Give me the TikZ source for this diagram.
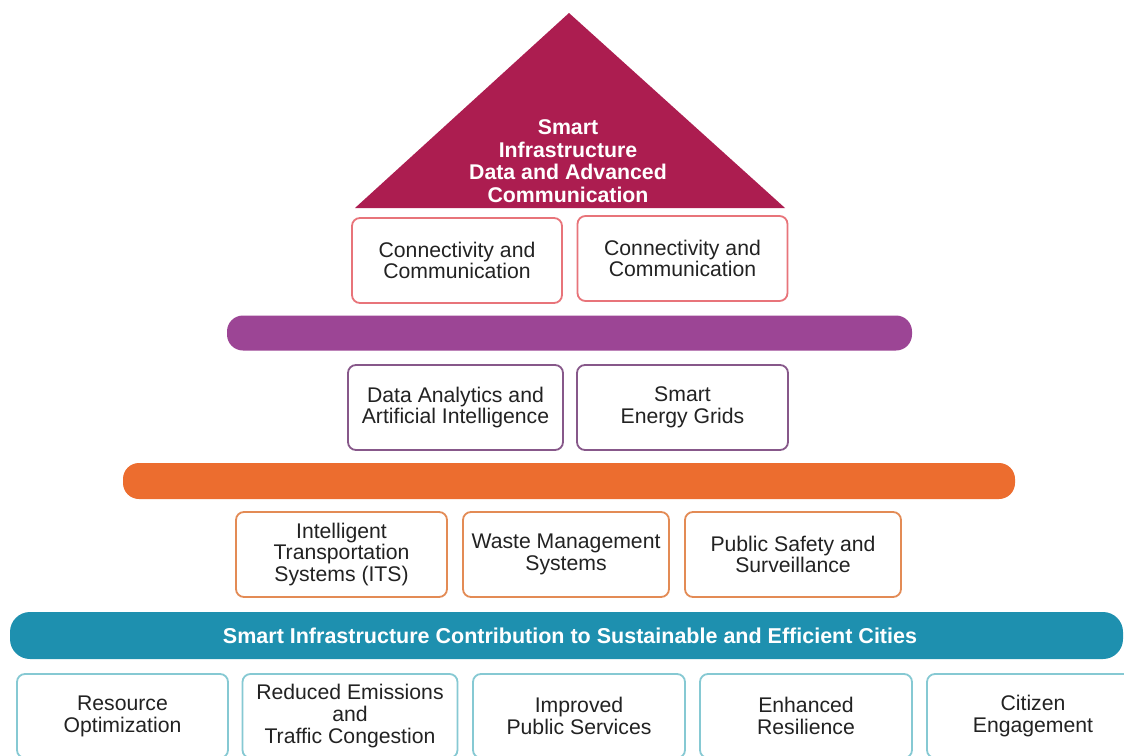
\documentclass[tikz,border=0pt]{standalone}
\usepackage{fontspec}
\setmainfont{Liberation Sans}
\definecolor{crim}{HTML}{AC1D50}
\definecolor{redb}{HTML}{E8747A}
\definecolor{purbar}{HTML}{9C4595}
\definecolor{purb}{HTML}{87588A}
\definecolor{orbar}{HTML}{EC6D2F}
\definecolor{orb}{HTML}{E38B55}
\definecolor{tealbar}{HTML}{1E90AF}
\definecolor{tealb}{HTML}{86C9D3}
\definecolor{txt}{HTML}{222222}
\tikzset{
  boxbase/.style={draw, line width=1.8pt, rounded corners=8pt, fill=white, align=center, text=txt,
    inner sep=0pt, font=\fontsize{21.2}{21.8}\selectfont},
  redbox/.style={boxbase, draw=redb, minimum width=210pt, minimum height=85pt},
  purbox/.style={boxbase, draw=purb, minimum width=214pt, minimum height=85pt},
  orbox/.style={boxbase, draw=orb, minimum height=85pt},
  tealbox/.style={boxbase, draw=tealb, minimum height=84pt},
  barbase/.style={draw=none, inner sep=0pt},
}
\begin{document}
\begin{tikzpicture}[x=1pt,y=-1pt]
\useasboundingbox (0,0) rectangle (1124,755);
\clip (0,0) rectangle (1124,755);
\fill[white] (0,0) rectangle (1124,755);
% roof
\coordinate (apex) at (569,13);
\coordinate (bl) at (355,208);
\coordinate (br) at (785,208);
\fill[crim] (bl) -- (apex) -- (br) -- cycle;
\node[text=white, align=center, font=\bfseries\fontsize{21.3}{22.6}\selectfont] (roof) at (568,161)
  {Smart\\Infrastructure\\Data and Advanced\\Communication};
% red boxes
\node[redbox] (r1) at (457,260.5) {Connectivity and\\Communication};
\node[redbox] (r2) at (682.5,258.5) {Connectivity and\\Communication};
% purple bar
\node[barbase, fill=purbar, minimum width=685pt, minimum height=35pt, rounded corners=16pt] (pbar) at (569.5,333) {};
% purple boxes
\node[purbox, minimum width=215pt] (p1) at (455.5,407.5) {Data Analytics and\\Artificial Intelligence};
\node[purbox, minimum width=211pt] (p2) at (682.5,407.5) {Smart\\Energy Grids};
% orange bar
\node[barbase, fill=orbar, minimum width=892pt, minimum height=36pt, rounded corners=16pt] (obar) at (569,481) {};
% orange boxes
\node[orbox, minimum width=211pt] (o1) at (341.5,554.5) {Intelligent\\Transportation\\Systems (ITS)};
\node[orbox, minimum width=206pt] (o2) at (566,554.5) {Waste Management\\Systems};
\node[orbox, minimum width=216pt] (o3) at (793,554.5) {Public Safety and\\Surveillance};
% teal bar
\node[barbase, fill=tealbar, minimum width=1113pt, minimum height=47pt, rounded corners=20pt,
  text=white, font=\bfseries\fontsize{21.5}{22}\selectfont] (tbar) at (566.5,635.5)
  {\hspace*{7pt}Smart Infrastructure Contribution to Sustainable and Efficient Cities};
% bottom boxes
\node[tealbox, minimum width=211pt] (b1) at (122.5,716) {Resource\\Optimization};
\node[tealbox, minimum width=215pt] (b2) at (350,716) {Reduced Emissions\\and\\Traffic Congestion};
\node[tealbox, minimum width=212pt] (b3) at (579,716) {Improved\\Public Services};
\node[tealbox, minimum width=212pt] (b4) at (806,716) {Enhanced\\Resilience};
\node[tealbox, minimum width=212pt] (b5) at (1033,716) {Citizen\\Engagement};
\end{tikzpicture}
\end{document}
